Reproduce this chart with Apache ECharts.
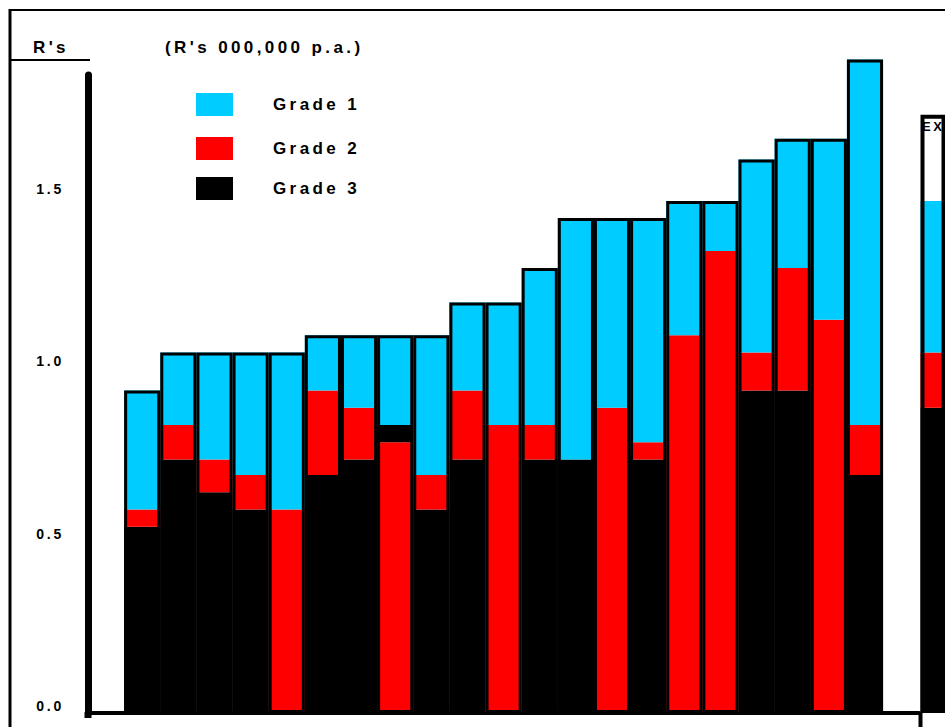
<!DOCTYPE html>
<html>
<head>
<meta charset="utf-8">
<script src="https://cdn.jsdelivr.net/npm/echarts@6/dist/echarts.min.js"></script>
<style>
  html, body { margin: 0; padding: 0; background: #ffffff; }
  #chart { width: 945px; height: 727px; overflow: hidden; }
  /* spaced-out lettering used throughout the chart */
  #chart text { letter-spacing: 0.2em; }
</style>
</head>
<body>
<div id="chart"></div>
<script>
// ---- data (R's million per annum) ----
const categories = ['1','2','3','4','5','6','7','8','9','10','11','12','13','14','15','16','17','18','19','20','21'];
const seriesNames = ['Grade 1', 'Grade 2', 'Grade 3'];

// bottom segment
const grade3 = [0.54, 0.735, 0.64, 0.59, 0, 0.69, 0.735, 0, 0.59, 0.735, 0, 0.735, 0.735, 0, 0.735, 0, 0, 0.935, 0.935, 0, 0.69];
// middle segment
const grade2 = [0.05, 0.10, 0.095, 0.10, 0.59, 0.245, 0.15, 0.785, 0.10, 0.20, 0.835, 0.10, 0, 0.885, 0.05, 1.095, 1.34, 0.11, 0.355, 1.14, 0.145];
// Grade 3 block that sits above Grade 2 (bar 8 only)
const grade3Upper = [0, 0, 0, 0, 0, 0, 0, 0.05, 0, 0, 0, 0, 0, 0, 0, 0, 0, 0, 0, 0, 0];
// top segment
const grade1 = [0.345, 0.21, 0.31, 0.355, 0.455, 0.16, 0.21, 0.26, 0.405, 0.255, 0.355, 0.455, 0.70, 0.55, 0.65, 0.39, 0.145, 0.56, 0.375, 0.525, 1.06];

// right-hand panel
const exCategory = ['EX'];
const exGrade3 = [0.885];
const exGrade2 = [0.16];
const exGrade1 = [0.44];
const exPanelTop = [1.735];

const yTickLabels = ['0.0', '0.5', '1.0', '1.5'];

// ---- build ----
const FONT = "'Liberation Sans', Arial, Helvetica, sans-serif";
const CYAN = '#00CCFF', RED = '#FF0000', BLACK = '#000000';

const totals = categories.map((_, i) => +(grade3[i] + grade2[i] + grade3Upper[i] + grade1[i]).toFixed(3));
// one empty slot on each side of the bar run
const pad = arr => ['-', ...arr, '-'];
const axisCategories = ['', ...categories, ' '];

const segment = (name, data, color) => ({
  type: 'bar', name, stack: 'grades', data: pad(data),
  barCategoryGap: '0%', barGap: '-100%', clip: false,
  itemStyle: { color }, emphasis: { disabled: true }
});
const exSegment = (name, data, color) => ({
  type: 'bar', name, stack: 'ex', data,
  xAxisIndex: 1, yAxisIndex: 1,
  barCategoryGap: '0%', barGap: '-100%', clip: false,
  itemStyle: { color }, emphasis: { disabled: true }
});

const legendTops = [93, 137, 177];

const option = {
  backgroundColor: '#ffffff',
  animation: false,
  title: [
    { text: "R's", left: 33, top: 39, padding: 0,
      textStyle: { fontFamily: FONT, fontWeight: 'bold', fontSize: 17, color: BLACK } },
    { text: "(R's 000,000 p.a.)", left: 165, top: 39, padding: 0,
      textStyle: { fontFamily: FONT, fontWeight: 'bold', fontSize: 17, color: BLACK } }
  ],
  legend: seriesNames.map((n, i) => ({
    data: [n], left: 196, top: legendTops[i], padding: 0, orient: 'vertical',
    icon: 'rect', itemWidth: 37, itemHeight: 23, selectedMode: false,
    textStyle: { fontFamily: FONT, fontWeight: 'bold', fontSize: 17, color: BLACK, padding: [0, 0, 6, 35] }
  })),
  grid: [
    { left: 88, right: 25.8, top: 75, bottom: 14 },
    { left: 920.5, width: 100, top: 75, bottom: 14 }
  ],
  xAxis: [
    { type: 'category', data: axisCategories, gridIndex: 0, offset: 3,
      axisLine: { lineStyle: { color: BLACK, width: 4 } },
      axisTick: { show: false }, axisLabel: { show: false }, splitLine: { show: false } },
    { type: 'category', data: exCategory, gridIndex: 1, show: false }
  ],
  yAxis: [
    { type: 'value', gridIndex: 0, min: 0, max: 1.85, interval: 0.5,
      axisLine: { show: true, lineStyle: { color: BLACK, width: 7 } },
      axisTick: { show: false }, splitLine: { show: false },
      axisLabel: {
        showMaxLabel: false, margin: 24,
        fontFamily: FONT, fontWeight: 'bold', fontSize: 14, color: BLACK,
        verticalAlign: 'bottom', lineHeight: 14,
        formatter: v => yTickLabels[Math.round(v / 0.5)] || ''
      } },
    { type: 'value', gridIndex: 1, min: 0, max: 1.85, show: false }
  ],
  series: [
    segment('Grade 3', grade3, BLACK),
    segment('Grade 2', grade2, RED),
    segment('Grade 3', grade3Upper, BLACK),
    segment('Grade 1', grade1, CYAN),
    { type: 'bar', name: 'Total', data: pad(totals),
      barCategoryGap: '0%', barGap: '-100%', clip: false, silent: true, z: 3,
      itemStyle: { color: 'rgba(0,0,0,0)', borderColor: BLACK, borderWidth: 3 } },

    exSegment('Grade 3', exGrade3, BLACK),
    exSegment('Grade 2', exGrade2, RED),
    exSegment('Grade 1', exGrade1, CYAN),
    { type: 'bar', name: 'EX', data: exPanelTop, xAxisIndex: 1, yAxisIndex: 1,
      barCategoryGap: '0%', barGap: '-100%', clip: false, silent: true, z: 3,
      itemStyle: { color: 'rgba(0,0,0,0)', borderColor: BLACK, borderWidth: 4 },
      label: { show: true, position: [1.5, 5], formatter: '{b}',
               fontFamily: FONT, fontWeight: 'bold', fontSize: 13, color: BLACK } }
  ],
  graphic: [
    // outer frame
    { type: 'line', shape: { x1: 9, y1: 10, x2: 945, y2: 10 }, style: { stroke: BLACK, lineWidth: 2 } },
    { type: 'line', shape: { x1: 10, y1: 9, x2: 10, y2: 727 }, style: { stroke: BLACK, lineWidth: 3 } },
    // rule under the unit heading
    { type: 'line', shape: { x1: 10, y1: 60, x2: 90, y2: 60 }, style: { stroke: BLACK, lineWidth: 2 } },
    // panel divider continues below the base line
    { type: 'rect', shape: { x: 918.5, y: 713, width: 4, height: 14 }, style: { fill: BLACK } },
    // axis corner
    { type: 'rect', shape: { x: 84.5, y: 712, width: 7, height: 6 }, style: { fill: BLACK } }
  ]
};

const chart = echarts.init(document.getElementById('chart'), null, { renderer: 'svg' });
chart.setOption(option);
</script>
</body>
</html>
